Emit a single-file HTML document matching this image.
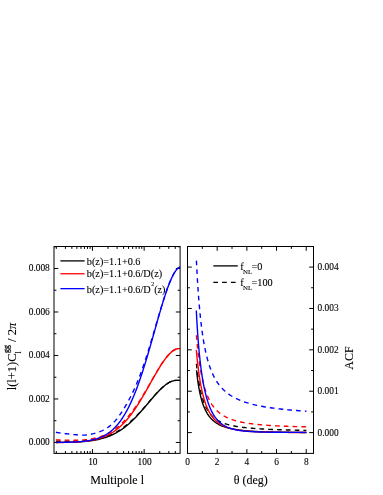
<!DOCTYPE html>
<html><head><meta charset="utf-8"><title>plot</title>
<style>html,body{margin:0;padding:0;background:#fff;}body{width:383px;height:495px;overflow:hidden;font-family:"Liberation Serif",serif;}</style>
</head><body>
<svg width="383" height="495" viewBox="0 0 383 495" style="display:block;will-change:transform">
<rect width="383" height="495" fill="#fff"/>
<clipPath id="cl"><rect x="54.00" y="246.50" width="126.10" height="206.90"/></clipPath>
<clipPath id="cr"><rect x="187.50" y="246.50" width="126.00" height="206.90"/></clipPath>
<path d="M56.31 453.40 v-2.40 M56.31 246.50 v2.40 M65.42 453.40 v-2.40 M65.42 246.50 v2.40 M71.88 453.40 v-2.40 M71.88 246.50 v2.40 M76.89 453.40 v-2.40 M76.89 246.50 v2.40 M80.98 453.40 v-2.40 M80.98 246.50 v2.40 M84.44 453.40 v-2.40 M84.44 246.50 v2.40 M87.44 453.40 v-2.40 M87.44 246.50 v2.40 M90.08 453.40 v-2.40 M90.08 246.50 v2.40 M92.45 453.40 v-4.30 M92.45 246.50 v4.30 M108.01 453.40 v-2.40 M108.01 246.50 v2.40 M117.12 453.40 v-2.40 M117.12 246.50 v2.40 M123.58 453.40 v-2.40 M123.58 246.50 v2.40 M128.59 453.40 v-2.40 M128.59 246.50 v2.40 M132.68 453.40 v-2.40 M132.68 246.50 v2.40 M136.14 453.40 v-2.40 M136.14 246.50 v2.40 M139.14 453.40 v-2.40 M139.14 246.50 v2.40 M141.78 453.40 v-2.40 M141.78 246.50 v2.40 M144.15 453.40 v-4.30 M144.15 246.50 v4.30 M159.71 453.40 v-2.40 M159.71 246.50 v2.40 M168.82 453.40 v-2.40 M168.82 246.50 v2.40 M175.28 453.40 v-2.40 M175.28 246.50 v2.40 M54.00 442.45 h4.30 M180.10 442.45 h-4.30 M54.00 420.71 h2.40 M180.10 420.71 h-2.40 M54.00 398.96 h4.30 M180.10 398.96 h-4.30 M54.00 377.22 h2.40 M180.10 377.22 h-2.40 M54.00 355.47 h4.30 M180.10 355.47 h-4.30 M54.00 333.73 h2.40 M180.10 333.73 h-2.40 M54.00 311.99 h4.30 M180.10 311.99 h-4.30 M54.00 290.24 h2.40 M180.10 290.24 h-2.40 M54.00 268.50 h4.30 M180.10 268.50 h-4.30 M54.00 246.75 h2.40 M180.10 246.75 h-2.40 M202.34 453.40 v-2.40 M202.34 246.50 v2.40 M217.18 453.40 v-4.30 M217.18 246.50 v4.30 M232.02 453.40 v-2.40 M232.02 246.50 v2.40 M246.86 453.40 v-4.30 M246.86 246.50 v4.30 M261.70 453.40 v-2.40 M261.70 246.50 v2.40 M276.54 453.40 v-4.30 M276.54 246.50 v4.30 M291.38 453.40 v-2.40 M291.38 246.50 v2.40 M306.22 453.40 v-4.30 M306.22 246.50 v4.30 M187.50 432.60 h4.30 M313.50 432.60 h-4.30 M187.50 411.91 h2.40 M313.50 411.91 h-2.40 M187.50 391.22 h4.30 M313.50 391.22 h-4.30 M187.50 370.53 h2.40 M313.50 370.53 h-2.40 M187.50 349.84 h4.30 M313.50 349.84 h-4.30 M187.50 329.15 h2.40 M313.50 329.15 h-2.40 M187.50 308.46 h4.30 M313.50 308.46 h-4.30 M187.50 287.77 h2.40 M313.50 287.77 h-2.40 M187.50 267.08 h4.30 M313.50 267.08 h-4.30" fill="none" stroke="#000" stroke-width="1.00"/>
<path d="M55.90 442.45 L56.79 442.44 L57.69 442.43 L58.58 442.42 L59.48 442.41 L60.37 442.40 L61.27 442.39 L62.16 442.38 L63.06 442.36 L63.95 442.35 L64.85 442.33 L65.74 442.32 L66.64 442.30 L67.53 442.28 L68.43 442.26 L69.32 442.23 L70.22 442.21 L71.11 442.18 L72.01 442.15 L72.90 442.12 L73.80 442.09 L74.69 442.05 L75.59 442.01 L76.48 441.97 L77.38 441.93 L78.27 441.88 L79.17 441.83 L80.06 441.78 L80.96 441.72 L81.85 441.65 L82.75 441.59 L83.64 441.52 L84.54 441.44 L85.43 441.36 L86.33 441.27 L87.22 441.18 L88.12 441.08 L89.01 440.98 L89.91 440.86 L90.80 440.75 L91.70 440.62 L92.59 440.49 L93.49 440.35 L94.38 440.20 L95.28 440.04 L96.17 439.87 L97.07 439.70 L97.96 439.51 L98.86 439.31 L99.75 439.10 L100.65 438.89 L101.54 438.65 L102.44 438.41 L103.33 438.16 L104.23 437.89 L105.12 437.61 L106.02 437.31 L106.91 437.00 L107.81 436.67 L108.70 436.33 L109.60 435.98 L110.49 435.61 L111.39 435.22 L112.28 434.81 L113.18 434.39 L114.07 433.95 L114.97 433.49 L115.86 433.01 L116.76 432.51 L117.65 431.99 L118.55 431.46 L119.44 430.90 L120.34 430.33 L121.23 429.73 L122.13 429.11 L123.02 428.48 L123.92 427.82 L124.81 427.14 L125.71 426.44 L126.60 425.72 L127.50 424.98 L128.39 424.22 L129.29 423.44 L130.18 422.63 L131.08 421.81 L131.97 420.97 L132.87 420.11 L133.76 419.23 L134.66 418.33 L135.55 417.41 L136.45 416.48 L137.34 415.53 L138.24 414.57 L139.13 413.59 L140.03 412.59 L140.92 411.59 L141.82 410.57 L142.71 409.54 L143.61 408.51 L144.50 407.46 L145.40 406.41 L146.29 405.35 L147.19 404.29 L148.08 403.23 L148.98 402.17 L149.87 401.11 L150.77 400.05 L151.66 399.00 L152.56 397.95 L153.45 396.92 L154.35 395.89 L155.24 394.88 L156.14 393.88 L157.03 392.90 L157.93 391.94 L158.82 391.00 L159.72 390.09 L160.61 389.20 L161.51 388.34 L162.40 387.51 L163.30 386.71 L164.19 385.95 L165.09 385.22 L165.98 384.54 L166.88 383.90 L167.77 383.30 L168.67 382.75 L169.56 382.25 L170.46 381.81 L171.35 381.42 L172.25 381.08 L173.14 380.81 L174.04 380.61 L174.93 380.47 L175.83 380.42 L176.72 380.42 L177.62 380.42 L178.51 380.42 L179.41 380.42 L180.30 380.42" fill="none" stroke="#000" stroke-width="1.40" stroke-linejoin="round" clip-path="url(#cl)"/>
<path d="M55.90 441.20 L56.79 441.21 L57.69 441.22 L58.58 441.23 L59.48 441.24 L60.37 441.25 L61.27 441.26 L62.16 441.27 L63.06 441.28 L63.95 441.28 L64.85 441.28 L65.74 441.29 L66.64 441.29 L67.53 441.29 L68.43 441.29 L69.32 441.28 L70.22 441.28 L71.11 441.27 L72.01 441.26 L72.90 441.24 L73.80 441.23 L74.69 441.21 L75.59 441.19 L76.48 441.17 L77.38 441.14 L78.27 441.11 L79.17 441.07 L80.06 441.03 L80.96 440.99 L81.85 440.94 L82.75 440.89 L83.64 440.84 L84.54 440.77 L85.43 440.70 L86.33 440.62 L87.22 440.53 L88.12 440.43 L89.01 440.33 L89.91 440.22 L90.80 440.10 L91.70 439.97 L92.59 439.84 L93.49 439.70 L94.38 439.55 L95.28 439.39 L96.17 439.22 L97.07 439.05 L97.96 438.86 L98.86 438.66 L99.75 438.46 L100.65 438.24 L101.54 438.01 L102.44 437.76 L103.33 437.51 L104.23 437.24 L105.12 436.96 L106.02 436.66 L106.91 436.35 L107.81 436.02 L108.70 435.68 L109.60 435.32 L110.49 434.95 L111.39 434.55 L112.28 434.14 L113.18 433.71 L114.07 433.27 L114.97 432.80 L115.86 432.31 L116.76 431.81 L117.65 431.28 L118.55 430.73 L119.44 430.17 L120.34 429.58 L121.23 428.98 L122.13 428.35 L123.02 427.71 L123.92 427.05 L124.81 426.37 L125.71 425.67 L126.60 424.96 L127.50 424.23 L128.39 423.48 L129.29 422.71 L130.18 421.93 L131.08 421.12 L131.97 420.30 L132.87 419.47 L133.76 418.61 L134.66 417.74 L135.55 416.85 L136.45 415.94 L137.34 415.02 L138.24 414.08 L139.13 413.12 L140.03 412.16 L140.92 411.18 L141.82 410.18 L142.71 409.18 L143.61 408.16 L144.50 407.14 L145.40 406.11 L146.29 405.08 L147.19 404.04 L148.08 403.00 L148.98 401.96 L149.87 400.91 L150.77 399.87 L151.66 398.84 L152.56 397.81 L153.45 396.78 L154.35 395.77 L155.24 394.77 L156.14 393.79 L157.03 392.82 L157.93 391.86 L158.82 390.93 L159.72 390.03 L160.61 389.14 L161.51 388.29 L162.40 387.46 L163.30 386.67 L164.19 385.91 L165.09 385.19 L165.98 384.51 L166.88 383.87 L167.77 383.28 L168.67 382.73 L169.56 382.24 L170.46 381.79 L171.35 381.40 L172.25 381.07 L173.14 380.80 L174.04 380.60 L174.93 380.46 L175.83 380.41 L176.72 380.41 L177.62 380.41 L178.51 380.42 L179.41 380.42 L180.30 380.42" fill="none" stroke="#000" stroke-width="1.40" stroke-linejoin="round" stroke-dasharray="4.7 4.1" clip-path="url(#cl)"/>
<path d="M55.90 442.54 L56.79 442.53 L57.69 442.52 L58.58 442.51 L59.48 442.50 L60.37 442.49 L61.27 442.48 L62.16 442.46 L63.06 442.45 L63.95 442.43 L64.85 442.41 L65.74 442.39 L66.64 442.37 L67.53 442.35 L68.43 442.32 L69.32 442.30 L70.22 442.27 L71.11 442.23 L72.01 442.20 L72.90 442.16 L73.80 442.12 L74.69 442.08 L75.59 442.03 L76.48 441.98 L77.38 441.93 L78.27 441.87 L79.17 441.81 L80.06 441.74 L80.96 441.67 L81.85 441.59 L82.75 441.51 L83.64 441.42 L84.54 441.32 L85.43 441.22 L86.33 441.11 L87.22 441.00 L88.12 440.87 L89.01 440.74 L89.91 440.60 L90.80 440.45 L91.70 440.29 L92.59 440.12 L93.49 439.94 L94.38 439.74 L95.28 439.54 L96.17 439.32 L97.07 439.09 L97.96 438.85 L98.86 438.59 L99.75 438.32 L100.65 438.03 L101.54 437.73 L102.44 437.41 L103.33 437.07 L104.23 436.72 L105.12 436.34 L106.02 435.95 L106.91 435.53 L107.81 435.10 L108.70 434.64 L109.60 434.16 L110.49 433.66 L111.39 433.13 L112.28 432.58 L113.18 432.01 L114.07 431.41 L114.97 430.78 L115.86 430.13 L116.76 429.45 L117.65 428.74 L118.55 428.00 L119.44 427.23 L120.34 426.43 L121.23 425.61 L122.13 424.75 L123.02 423.86 L123.92 422.94 L124.81 421.99 L125.71 421.01 L126.60 420.00 L127.50 418.95 L128.39 417.88 L129.29 416.77 L130.18 415.63 L131.08 414.46 L131.97 413.26 L132.87 412.03 L133.76 410.77 L134.66 409.48 L135.55 408.16 L136.45 406.81 L137.34 405.44 L138.24 404.04 L139.13 402.61 L140.03 401.17 L140.92 399.70 L141.82 398.20 L142.71 396.69 L143.61 395.17 L144.50 393.62 L145.40 392.06 L146.29 390.49 L147.19 388.91 L148.08 387.32 L148.98 385.72 L149.87 384.13 L150.77 382.53 L151.66 380.93 L152.56 379.33 L153.45 377.74 L154.35 376.17 L155.24 374.60 L156.14 373.05 L157.03 371.52 L157.93 370.01 L158.82 368.52 L159.72 367.06 L160.61 365.63 L161.51 364.24 L162.40 362.88 L163.30 361.57 L164.19 360.30 L165.09 359.07 L165.98 357.90 L166.88 356.78 L167.77 355.71 L168.67 354.71 L169.56 353.77 L170.46 352.90 L171.35 352.09 L172.25 351.36 L173.14 350.71 L174.04 350.14 L174.93 349.65 L175.83 349.25 L176.72 348.94 L177.62 348.73 L178.51 348.63 L179.41 348.62 L180.30 348.62" fill="none" stroke="#ff0000" stroke-width="1.40" stroke-linejoin="round" clip-path="url(#cl)"/>
<path d="M55.90 439.79 L56.79 439.83 L57.69 439.86 L58.58 439.90 L59.48 439.93 L60.37 439.96 L61.27 439.99 L62.16 440.02 L63.06 440.05 L63.95 440.07 L64.85 440.10 L65.74 440.12 L66.64 440.14 L67.53 440.16 L68.43 440.17 L69.32 440.19 L70.22 440.20 L71.11 440.21 L72.01 440.21 L72.90 440.22 L73.80 440.21 L74.69 440.21 L75.59 440.20 L76.48 440.19 L77.38 440.17 L78.27 440.15 L79.17 440.12 L80.06 440.09 L80.96 440.05 L81.85 440.01 L82.75 439.96 L83.64 439.90 L84.54 439.84 L85.43 439.76 L86.33 439.66 L87.22 439.55 L88.12 439.42 L89.01 439.29 L89.91 439.15 L90.80 439.00 L91.70 438.84 L92.59 438.67 L93.49 438.49 L94.38 438.30 L95.28 438.09 L96.17 437.88 L97.07 437.65 L97.96 437.40 L98.86 437.15 L99.75 436.87 L100.65 436.59 L101.54 436.28 L102.44 435.96 L103.33 435.63 L104.23 435.27 L105.12 434.89 L106.02 434.50 L106.91 434.08 L107.81 433.64 L108.70 433.18 L109.60 432.70 L110.49 432.19 L111.39 431.66 L112.28 431.10 L113.18 430.51 L114.07 429.89 L114.97 429.25 L115.86 428.58 L116.76 427.87 L117.65 427.14 L118.55 426.38 L119.44 425.59 L120.34 424.77 L121.23 423.92 L122.13 423.05 L123.02 422.15 L123.92 421.22 L124.81 420.27 L125.71 419.30 L126.60 418.30 L127.50 417.27 L128.39 416.23 L129.29 415.15 L130.18 414.05 L131.08 412.93 L131.97 411.78 L132.87 410.60 L133.76 409.39 L134.66 408.16 L135.55 406.90 L136.45 405.61 L137.34 404.29 L138.24 402.95 L139.13 401.58 L140.03 400.19 L140.92 398.78 L141.82 397.34 L142.71 395.88 L143.61 394.40 L144.50 392.91 L145.40 391.40 L146.29 389.88 L147.19 388.34 L148.08 386.80 L148.98 385.24 L149.87 383.69 L150.77 382.12 L151.66 380.56 L152.56 379.00 L153.45 377.45 L154.35 375.90 L155.24 374.36 L156.14 372.83 L157.03 371.32 L157.93 369.83 L158.82 368.36 L159.72 366.92 L160.61 365.51 L161.51 364.13 L162.40 362.79 L163.30 361.48 L164.19 360.22 L165.09 359.00 L165.98 357.84 L166.88 356.72 L167.77 355.67 L168.67 354.67 L169.56 353.73 L170.46 352.86 L171.35 352.06 L172.25 351.34 L173.14 350.69 L174.04 350.12 L174.93 349.63 L175.83 349.23 L176.72 348.93 L177.62 348.72 L178.51 348.62 L179.41 348.62 L180.30 348.62" fill="none" stroke="#ff0000" stroke-width="1.40" stroke-linejoin="round" stroke-dasharray="4.7 4.1" clip-path="url(#cl)"/>
<path d="M55.90 442.41 L56.79 442.40 L57.69 442.40 L58.58 442.39 L59.48 442.38 L60.37 442.37 L61.27 442.36 L62.16 442.35 L63.06 442.33 L63.95 442.32 L64.85 442.30 L65.74 442.29 L66.64 442.27 L67.53 442.25 L68.43 442.22 L69.32 442.20 L70.22 442.17 L71.11 442.14 L72.01 442.11 L72.90 442.07 L73.80 442.03 L74.69 441.99 L75.59 441.95 L76.48 441.90 L77.38 441.84 L78.27 441.78 L79.17 441.72 L80.06 441.65 L80.96 441.58 L81.85 441.50 L82.75 441.41 L83.64 441.31 L84.54 441.21 L85.43 441.10 L86.33 440.98 L87.22 440.86 L88.12 440.72 L89.01 440.57 L89.91 440.41 L90.80 440.24 L91.70 440.05 L92.59 439.86 L93.49 439.64 L94.38 439.42 L95.28 439.17 L96.17 438.91 L97.07 438.64 L97.96 438.34 L98.86 438.02 L99.75 437.68 L100.65 437.32 L101.54 436.94 L102.44 436.53 L103.33 436.10 L104.23 435.64 L105.12 435.15 L106.02 434.63 L106.91 434.08 L107.81 433.49 L108.70 432.87 L109.60 432.22 L110.49 431.53 L111.39 430.80 L112.28 430.04 L113.18 429.23 L114.07 428.37 L114.97 427.48 L115.86 426.53 L116.76 425.54 L117.65 424.50 L118.55 423.41 L119.44 422.27 L120.34 421.08 L121.23 419.83 L122.13 418.52 L123.02 417.16 L123.92 415.73 L124.81 414.25 L125.71 412.71 L126.60 411.10 L127.50 409.43 L128.39 407.70 L129.29 405.90 L130.18 404.04 L131.08 402.11 L131.97 400.12 L132.87 398.06 L133.76 395.94 L134.66 393.75 L135.55 391.49 L136.45 389.17 L137.34 386.78 L138.24 384.33 L139.13 381.82 L140.03 379.25 L140.92 376.62 L141.82 373.93 L142.71 371.18 L143.61 368.38 L144.50 365.53 L145.40 362.63 L146.29 359.69 L147.19 356.70 L148.08 353.68 L148.98 350.62 L149.87 347.53 L150.77 344.41 L151.66 341.27 L152.56 338.12 L153.45 334.95 L154.35 331.78 L155.24 328.60 L156.14 325.43 L157.03 322.27 L157.93 319.12 L158.82 316.00 L159.72 312.91 L160.61 309.85 L161.51 306.84 L162.40 303.87 L163.30 300.97 L164.19 298.13 L165.09 295.36 L165.98 292.67 L166.88 290.07 L167.77 287.57 L168.67 285.16 L169.56 282.87 L170.46 280.70 L171.35 278.66 L172.25 276.75 L173.14 274.98 L174.04 273.36 L174.93 271.91 L175.83 270.62 L176.72 269.51 L177.62 268.59 L178.51 267.87 L179.41 267.37 L180.30 267.11" fill="none" stroke="#0000ff" stroke-width="1.40" stroke-linejoin="round" clip-path="url(#cl)"/>
<path d="M55.90 432.31 L56.79 432.44 L57.69 432.58 L58.58 432.71 L59.48 432.84 L60.37 432.96 L61.27 433.09 L62.16 433.21 L63.06 433.34 L63.95 433.46 L64.85 433.57 L65.74 433.69 L66.64 433.80 L67.53 433.91 L68.43 434.02 L69.32 434.13 L70.22 434.23 L71.11 434.32 L72.01 434.42 L72.90 434.51 L73.80 434.59 L74.69 434.67 L75.59 434.75 L76.48 434.82 L77.38 434.88 L78.27 434.94 L79.17 434.99 L80.06 435.03 L80.96 435.06 L81.85 435.09 L82.75 435.10 L83.64 435.11 L84.54 435.10 L85.43 435.07 L86.33 434.99 L87.22 434.86 L88.12 434.72 L89.01 434.57 L89.91 434.41 L90.80 434.24 L91.70 434.06 L92.59 433.86 L93.49 433.65 L94.38 433.42 L95.28 433.18 L96.17 432.92 L97.07 432.64 L97.96 432.35 L98.86 432.03 L99.75 431.69 L100.65 431.33 L101.54 430.95 L102.44 430.54 L103.33 430.11 L104.23 429.64 L105.12 429.15 L106.02 428.63 L106.91 428.07 L107.81 427.48 L108.70 426.84 L109.60 426.17 L110.49 425.45 L111.39 424.69 L112.28 423.88 L113.18 423.02 L114.07 422.10 L114.97 421.14 L115.86 420.11 L116.76 419.04 L117.65 417.90 L118.55 416.72 L119.44 415.48 L120.34 414.19 L121.23 412.86 L122.13 411.48 L123.02 410.07 L123.92 408.62 L124.81 407.13 L125.71 405.62 L126.60 404.07 L127.50 402.48 L128.39 400.87 L129.29 399.21 L130.18 397.52 L131.08 395.78 L131.97 393.99 L132.87 392.15 L133.76 390.26 L134.66 388.30 L135.55 386.28 L136.45 384.20 L137.34 382.05 L138.24 379.84 L139.13 377.56 L140.03 375.22 L140.92 372.81 L141.82 370.35 L142.71 367.82 L143.61 365.24 L144.50 362.59 L145.40 359.90 L146.29 357.15 L147.19 354.36 L148.08 351.52 L148.98 348.64 L149.87 345.71 L150.77 342.76 L151.66 339.77 L152.56 336.75 L153.45 333.71 L154.35 330.66 L155.24 327.60 L156.14 324.53 L157.03 321.46 L157.93 318.40 L158.82 315.35 L159.72 312.33 L160.61 309.34 L161.51 306.38 L162.40 303.47 L163.30 300.61 L164.19 297.81 L165.09 295.08 L165.98 292.42 L166.88 289.85 L167.77 287.37 L168.67 284.99 L169.56 282.72 L170.46 280.57 L171.35 278.54 L172.25 276.64 L173.14 274.89 L174.04 273.28 L174.93 271.83 L175.83 270.56 L176.72 269.45 L177.62 268.54 L178.51 267.83 L179.41 267.33 L180.30 267.07" fill="none" stroke="#0000ff" stroke-width="1.40" stroke-linejoin="round" stroke-dasharray="4.7 4.1" clip-path="url(#cl)"/>
<path d="M196.51 370.20 L196.66 371.60 L196.81 372.98 L196.96 374.32 L197.12 375.64 L197.27 376.93 L197.43 378.19 L197.59 379.42 L197.76 380.63 L197.93 381.81 L198.10 382.97 L198.27 384.11 L198.45 385.22 L198.63 386.30 L198.81 387.37 L198.99 388.41 L199.18 389.44 L199.37 390.44 L199.57 391.42 L199.76 392.38 L199.97 393.32 L200.17 394.25 L200.38 395.15 L200.59 396.04 L200.80 396.90 L201.02 397.76 L201.24 398.59 L201.46 399.41 L201.69 400.21 L201.93 400.99 L202.16 401.76 L202.40 402.52 L202.64 403.26 L202.89 403.98 L203.14 404.69 L203.40 405.39 L203.66 406.07 L203.92 406.73 L204.19 407.39 L204.47 408.03 L204.74 408.66 L205.03 409.27 L205.31 409.88 L205.60 410.47 L205.90 411.05 L206.20 411.61 L206.51 412.17 L206.82 412.71 L207.13 413.24 L207.45 413.76 L207.78 414.27 L208.11 414.77 L208.45 415.26 L208.79 415.74 L209.14 416.21 L209.50 416.67 L209.86 417.12 L210.22 417.56 L210.59 417.99 L210.97 418.41 L211.35 418.82 L211.74 419.22 L212.14 419.61 L212.54 419.99 L212.95 420.37 L213.37 420.73 L213.79 421.09 L214.22 421.44 L214.66 421.78 L215.10 422.12 L215.56 422.44 L216.02 422.76 L216.48 423.07 L216.96 423.37 L217.44 423.67 L217.93 423.96 L218.42 424.24 L218.93 424.51 L219.44 424.78 L219.97 425.04 L220.50 425.29 L221.04 425.54 L221.59 425.78 L222.14 426.01 L222.71 426.24 L223.29 426.46 L223.87 426.68 L224.47 426.89 L225.07 427.09 L225.69 427.29 L226.31 427.48 L226.95 427.67 L227.59 427.85 L228.25 428.03 L228.91 428.20 L229.59 428.37 L230.28 428.53 L230.98 428.68 L231.69 428.84 L232.41 428.98 L233.15 429.13 L233.90 429.26 L234.65 429.40 L235.43 429.53 L236.21 429.65 L237.01 429.77 L237.82 429.89 L238.64 430.00 L239.48 430.11 L240.33 430.22 L241.19 430.32 L242.07 430.42 L242.96 430.51 L243.87 430.61 L244.79 430.69 L245.73 430.78 L246.68 430.86 L247.65 430.94 L248.63 431.02 L249.63 431.09 L250.65 431.16 L251.68 431.23 L252.73 431.30 L253.80 431.36 L254.88 431.42 L255.99 431.48 L257.11 431.53 L258.24 431.59 L259.40 431.64 L260.58 431.69 L261.77 431.73 L262.99 431.78 L264.22 431.82 L265.48 431.86 L266.75 431.90 L268.05 431.94 L269.37 431.98 L270.71 432.01 L272.07 432.04 L273.45 432.08 L274.86 432.11 L276.29 432.13 L277.74 432.16 L279.21 432.19 L280.71 432.21 L282.24 432.24 L283.79 432.26 L285.36 432.28 L286.96 432.30 L288.59 432.32 L290.25 432.34 L291.93 432.35 L293.63 432.37 L295.37 432.39 L297.13 432.40 L298.93 432.42 L300.75 432.43 L302.60 432.44 L304.49 432.45 L306.40 432.46" fill="none" stroke="#000" stroke-width="1.40" stroke-linejoin="round" clip-path="url(#cr)"/>
<path d="M196.43 363.70 L196.57 365.09 L196.72 366.47 L196.87 367.82 L197.03 369.16 L197.18 370.47 L197.34 371.76 L197.50 373.03 L197.67 374.28 L197.84 375.51 L198.01 376.72 L198.18 377.91 L198.35 379.09 L198.53 380.24 L198.71 381.37 L198.90 382.48 L199.08 383.57 L199.27 384.64 L199.47 385.69 L199.66 386.72 L199.86 387.74 L200.07 388.73 L200.27 389.71 L200.48 390.67 L200.70 391.61 L200.91 392.53 L201.13 393.43 L201.36 394.32 L201.58 395.18 L201.81 396.03 L202.05 396.87 L202.29 397.68 L202.53 398.48 L202.78 399.27 L203.03 400.04 L203.28 400.79 L203.54 401.52 L203.81 402.24 L204.07 402.95 L204.35 403.64 L204.62 404.31 L204.90 404.97 L205.19 405.62 L205.48 406.25 L205.78 406.87 L206.08 407.47 L206.38 408.06 L206.69 408.64 L207.01 409.20 L207.33 409.76 L207.65 410.30 L207.98 410.82 L208.32 411.34 L208.66 411.84 L209.01 412.33 L209.36 412.81 L209.72 413.28 L210.08 413.74 L210.45 414.19 L210.83 414.62 L211.21 415.05 L211.60 415.47 L212.00 415.87 L212.40 416.27 L212.81 416.66 L213.23 417.04 L213.65 417.40 L214.08 417.76 L214.51 418.12 L214.96 418.46 L215.41 418.79 L215.87 419.12 L216.33 419.44 L216.81 419.75 L217.29 420.05 L217.78 420.35 L218.27 420.63 L218.78 420.92 L219.29 421.19 L219.81 421.46 L220.34 421.72 L220.88 421.97 L221.43 422.22 L221.99 422.46 L222.56 422.69 L223.13 422.92 L223.72 423.15 L224.31 423.37 L224.92 423.58 L225.53 423.79 L226.15 423.99 L226.79 424.18 L227.43 424.38 L228.09 424.56 L228.76 424.74 L229.43 424.92 L230.12 425.09 L230.82 425.26 L231.53 425.43 L232.26 425.59 L232.99 425.74 L233.74 425.89 L234.50 426.04 L235.27 426.19 L236.05 426.33 L236.85 426.46 L237.66 426.60 L238.48 426.73 L239.32 426.85 L240.17 426.98 L241.04 427.10 L241.91 427.21 L242.81 427.33 L243.72 427.44 L244.64 427.55 L245.58 427.65 L246.53 427.76 L247.50 427.86 L248.48 427.95 L249.49 428.05 L250.50 428.14 L251.54 428.23 L252.59 428.32 L253.66 428.40 L254.74 428.49 L255.85 428.57 L256.97 428.65 L258.11 428.72 L259.27 428.80 L260.45 428.87 L261.65 428.94 L262.86 429.01 L264.10 429.08 L265.36 429.14 L266.64 429.21 L267.94 429.27 L269.26 429.33 L270.60 429.39 L271.96 429.45 L273.35 429.50 L274.76 429.56 L276.19 429.61 L277.65 429.66 L279.13 429.71 L280.63 429.76 L282.16 429.81 L283.71 429.86 L285.29 429.90 L286.90 429.95 L288.53 429.99 L290.19 430.03 L291.88 430.07 L293.59 430.11 L295.33 430.15 L297.10 430.19 L298.90 430.22 L300.73 430.26 L302.59 430.29 L304.48 430.33 L306.40 430.36" fill="none" stroke="#000" stroke-width="1.40" stroke-linejoin="round" stroke-dasharray="4.7 4.1" clip-path="url(#cr)"/>
<path d="M196.35 350.00 L196.50 351.68 L196.65 353.33 L196.80 354.95 L196.95 356.56 L197.11 358.14 L197.26 359.70 L197.43 361.23 L197.59 362.74 L197.75 364.23 L197.92 365.70 L198.10 367.14 L198.27 368.57 L198.45 369.97 L198.63 371.35 L198.81 372.71 L199.00 374.05 L199.19 375.37 L199.38 376.67 L199.57 377.95 L199.77 379.21 L199.98 380.45 L200.18 381.67 L200.39 382.87 L200.60 384.05 L200.82 385.21 L201.04 386.36 L201.26 387.48 L201.49 388.59 L201.72 389.68 L201.95 390.75 L202.19 391.80 L202.43 392.83 L202.68 393.85 L202.93 394.85 L203.18 395.83 L203.44 396.79 L203.70 397.73 L203.97 398.66 L204.24 399.58 L204.52 400.47 L204.80 401.35 L205.08 402.21 L205.37 403.05 L205.67 403.88 L205.96 404.69 L206.27 405.49 L206.58 406.27 L206.89 407.04 L207.21 407.78 L207.54 408.52 L207.87 409.24 L208.20 409.94 L208.54 410.63 L208.89 411.30 L209.24 411.96 L209.60 412.60 L209.96 413.23 L210.33 413.84 L210.71 414.44 L211.09 415.03 L211.48 415.60 L211.88 416.16 L212.28 416.71 L212.69 417.24 L213.10 417.76 L213.52 418.27 L213.95 418.76 L214.39 419.24 L214.83 419.71 L215.28 420.16 L215.74 420.61 L216.20 421.04 L216.67 421.46 L217.16 421.87 L217.64 422.27 L218.14 422.65 L218.65 423.03 L219.16 423.39 L219.68 423.74 L220.21 424.09 L220.75 424.42 L221.30 424.74 L221.85 425.06 L222.42 425.36 L222.99 425.65 L223.58 425.94 L224.17 426.21 L224.78 426.48 L225.39 426.73 L226.01 426.98 L226.65 427.22 L227.29 427.46 L227.95 427.68 L228.62 427.90 L229.29 428.11 L229.98 428.31 L230.68 428.50 L231.39 428.69 L232.11 428.87 L232.85 429.04 L233.60 429.21 L234.36 429.37 L235.13 429.52 L235.91 429.67 L236.71 429.81 L237.52 429.95 L238.34 430.08 L239.18 430.21 L240.03 430.33 L240.90 430.45 L241.78 430.56 L242.67 430.66 L243.58 430.76 L244.50 430.86 L245.44 430.95 L246.40 431.04 L247.37 431.13 L248.35 431.21 L249.36 431.29 L250.37 431.36 L251.41 431.43 L252.46 431.50 L253.53 431.56 L254.62 431.62 L255.73 431.68 L256.85 431.74 L257.99 431.79 L259.15 431.84 L260.33 431.88 L261.53 431.93 L262.75 431.97 L263.99 432.01 L265.25 432.05 L266.53 432.09 L267.83 432.12 L269.16 432.15 L270.50 432.18 L271.87 432.21 L273.26 432.24 L274.67 432.27 L276.11 432.29 L277.57 432.31 L279.05 432.33 L280.56 432.35 L282.09 432.37 L283.65 432.39 L285.23 432.41 L286.84 432.42 L288.48 432.44 L290.14 432.45 L291.83 432.47 L293.55 432.48 L295.30 432.49 L297.07 432.50 L298.88 432.51 L300.71 432.52 L302.58 432.53 L304.47 432.54 L306.40 432.55" fill="none" stroke="#ff0000" stroke-width="1.40" stroke-linejoin="round" clip-path="url(#cr)"/>
<path d="M196.40 335.20 L196.54 336.90 L196.69 338.57 L196.84 340.23 L197.00 341.87 L197.15 343.48 L197.31 345.08 L197.47 346.66 L197.64 348.22 L197.80 349.75 L197.97 351.27 L198.15 352.76 L198.32 354.24 L198.50 355.70 L198.68 357.13 L198.86 358.55 L199.05 359.95 L199.24 361.32 L199.43 362.68 L199.63 364.02 L199.83 365.33 L200.03 366.63 L200.24 367.91 L200.45 369.17 L200.66 370.41 L200.88 371.62 L201.10 372.83 L201.32 374.01 L201.55 375.17 L201.78 376.31 L202.01 377.44 L202.25 378.55 L202.49 379.63 L202.74 380.70 L202.99 381.75 L203.24 382.79 L203.50 383.80 L203.77 384.80 L204.03 385.78 L204.30 386.75 L204.58 387.69 L204.86 388.62 L205.15 389.53 L205.44 390.43 L205.73 391.31 L206.03 392.17 L206.34 393.02 L206.65 393.85 L206.96 394.66 L207.28 395.46 L207.61 396.25 L207.94 397.01 L208.27 397.77 L208.61 398.51 L208.96 399.23 L209.31 399.94 L209.67 400.63 L210.04 401.32 L210.41 401.98 L210.78 402.64 L211.17 403.28 L211.56 403.90 L211.95 404.52 L212.35 405.12 L212.76 405.70 L213.18 406.28 L213.60 406.84 L214.03 407.39 L214.46 407.93 L214.91 408.45 L215.36 408.97 L215.82 409.47 L216.28 409.97 L216.75 410.45 L217.24 410.92 L217.72 411.38 L218.22 411.82 L218.73 412.26 L219.24 412.69 L219.76 413.11 L220.29 413.52 L220.83 413.92 L221.38 414.31 L221.94 414.69 L222.50 415.06 L223.08 415.42 L223.66 415.77 L224.26 416.12 L224.86 416.45 L225.47 416.78 L226.10 417.10 L226.73 417.41 L227.38 417.72 L228.03 418.02 L228.70 418.30 L229.38 418.59 L230.07 418.86 L230.77 419.13 L231.48 419.39 L232.20 419.64 L232.94 419.89 L233.68 420.13 L234.44 420.37 L235.21 420.59 L236.00 420.82 L236.79 421.03 L237.60 421.24 L238.43 421.45 L239.27 421.65 L240.12 421.84 L240.98 422.03 L241.86 422.21 L242.75 422.39 L243.66 422.57 L244.59 422.73 L245.52 422.90 L246.48 423.06 L247.45 423.21 L248.43 423.36 L249.43 423.51 L250.45 423.65 L251.49 423.79 L252.54 423.93 L253.61 424.06 L254.70 424.18 L255.80 424.31 L256.92 424.42 L258.06 424.54 L259.22 424.65 L260.40 424.76 L261.60 424.87 L262.82 424.97 L264.06 425.07 L265.32 425.17 L266.60 425.26 L267.90 425.35 L269.22 425.44 L270.56 425.53 L271.93 425.61 L273.31 425.69 L274.72 425.77 L276.16 425.84 L277.62 425.92 L279.10 425.99 L280.60 426.06 L282.13 426.12 L283.69 426.19 L285.27 426.25 L286.88 426.31 L288.51 426.37 L290.17 426.43 L291.86 426.48 L293.58 426.53 L295.32 426.59 L297.09 426.63 L298.89 426.68 L300.72 426.73 L302.59 426.77 L304.48 426.82 L306.40 426.86" fill="none" stroke="#ff0000" stroke-width="1.40" stroke-linejoin="round" stroke-dasharray="4.7 4.1" clip-path="url(#cr)"/>
<path d="M196.31 310.50 L196.45 313.35 L196.60 316.13 L196.75 318.85 L196.90 321.51 L197.06 324.11 L197.22 326.66 L197.38 329.15 L197.54 331.60 L197.70 333.99 L197.87 336.33 L198.04 338.63 L198.22 340.87 L198.40 343.08 L198.57 345.24 L198.76 347.35 L198.94 349.43 L199.13 351.46 L199.32 353.46 L199.52 355.42 L199.72 357.34 L199.92 359.22 L200.12 361.07 L200.33 362.88 L200.54 364.66 L200.76 366.40 L200.98 368.11 L201.20 369.79 L201.43 371.44 L201.66 373.06 L201.89 374.64 L202.13 376.20 L202.37 377.73 L202.62 379.22 L202.86 380.69 L203.12 382.13 L203.38 383.55 L203.64 384.93 L203.90 386.29 L204.18 387.62 L204.45 388.93 L204.73 390.21 L205.01 391.47 L205.30 392.70 L205.60 393.90 L205.90 395.08 L206.20 396.23 L206.51 397.36 L206.82 398.47 L207.14 399.56 L207.47 400.61 L207.79 401.65 L208.13 402.66 L208.47 403.66 L208.82 404.62 L209.17 405.57 L209.53 406.49 L209.89 407.40 L210.26 408.28 L210.63 409.13 L211.02 409.97 L211.40 410.79 L211.80 411.58 L212.20 412.36 L212.61 413.12 L213.02 413.85 L213.44 414.57 L213.87 415.26 L214.31 415.94 L214.75 416.60 L215.20 417.23 L215.66 417.85 L216.12 418.45 L216.59 419.04 L217.07 419.60 L217.56 420.15 L218.06 420.68 L218.56 421.20 L219.07 421.69 L219.60 422.17 L220.12 422.64 L220.66 423.09 L221.21 423.52 L221.77 423.94 L222.33 424.34 L222.91 424.73 L223.49 425.10 L224.09 425.46 L224.69 425.81 L225.30 426.14 L225.93 426.46 L226.56 426.77 L227.21 427.07 L227.86 427.35 L228.53 427.62 L229.21 427.88 L229.89 428.13 L230.59 428.36 L231.30 428.59 L232.03 428.81 L232.76 429.02 L233.51 429.21 L234.27 429.40 L235.04 429.58 L235.83 429.75 L236.62 429.91 L237.43 430.07 L238.26 430.21 L239.10 430.35 L239.95 430.48 L240.81 430.61 L241.69 430.73 L242.59 430.84 L243.50 430.94 L244.42 431.04 L245.36 431.14 L246.31 431.22 L247.29 431.31 L248.27 431.39 L249.27 431.46 L250.29 431.53 L251.33 431.59 L252.38 431.66 L253.46 431.71 L254.54 431.77 L255.65 431.82 L256.77 431.86 L257.92 431.91 L259.08 431.95 L260.26 431.99 L261.46 432.02 L262.68 432.05 L263.92 432.09 L265.19 432.11 L266.47 432.14 L267.77 432.16 L269.10 432.19 L270.44 432.21 L271.81 432.23 L273.20 432.25 L274.62 432.26 L276.06 432.28 L277.52 432.29 L279.00 432.30 L280.51 432.32 L282.05 432.33 L283.61 432.34 L285.19 432.35 L286.81 432.35 L288.45 432.36 L290.11 432.37 L291.81 432.38 L293.53 432.38 L295.28 432.39 L297.06 432.39 L298.86 432.40 L300.70 432.40 L302.57 432.40 L304.47 432.41 L306.40 432.41" fill="none" stroke="#0000ff" stroke-width="1.40" stroke-linejoin="round" clip-path="url(#cr)"/>
<path d="M196.42 260.60 L196.56 263.61 L196.71 266.57 L196.86 269.47 L197.02 272.33 L197.17 275.13 L197.33 277.89 L197.49 280.59 L197.66 283.25 L197.83 285.86 L198.00 288.43 L198.17 290.94 L198.34 293.42 L198.52 295.84 L198.70 298.23 L198.89 300.57 L199.07 302.87 L199.26 305.12 L199.46 307.34 L199.65 309.51 L199.85 311.64 L200.05 313.73 L200.26 315.79 L200.47 317.81 L200.68 319.78 L200.90 321.73 L201.12 323.63 L201.34 325.50 L201.57 327.33 L201.80 329.13 L202.04 330.90 L202.28 332.63 L202.52 334.32 L202.77 335.99 L203.02 337.62 L203.27 339.23 L203.53 340.80 L203.79 342.34 L204.06 343.85 L204.33 345.33 L204.61 346.78 L204.89 348.21 L205.18 349.61 L205.47 350.98 L205.76 352.32 L206.06 353.64 L206.37 354.93 L206.68 356.19 L206.99 357.43 L207.31 358.65 L207.64 359.84 L207.97 361.01 L208.30 362.15 L208.65 363.27 L208.99 364.37 L209.35 365.45 L209.70 366.51 L210.07 367.54 L210.44 368.56 L210.82 369.55 L211.20 370.53 L211.59 371.48 L211.98 372.42 L212.39 373.33 L212.80 374.23 L213.21 375.11 L213.63 375.97 L214.06 376.82 L214.50 377.65 L214.94 378.46 L215.39 379.25 L215.85 380.03 L216.32 380.79 L216.79 381.54 L217.27 382.27 L217.76 382.99 L218.26 383.69 L218.76 384.38 L219.28 385.05 L219.80 385.72 L220.33 386.36 L220.87 387.00 L221.42 387.62 L221.97 388.22 L222.54 388.82 L223.11 389.40 L223.70 389.97 L224.29 390.53 L224.90 391.08 L225.51 391.62 L226.14 392.14 L226.77 392.66 L227.42 393.16 L228.07 393.66 L228.74 394.14 L229.42 394.62 L230.10 395.08 L230.80 395.53 L231.51 395.98 L232.24 396.42 L232.97 396.84 L233.72 397.26 L234.48 397.67 L235.25 398.07 L236.03 398.47 L236.83 398.85 L237.64 399.23 L238.47 399.60 L239.30 399.96 L240.15 400.31 L241.02 400.66 L241.90 401.00 L242.79 401.33 L243.70 401.66 L244.62 401.98 L245.56 402.29 L246.51 402.60 L247.48 402.90 L248.47 403.19 L249.47 403.48 L250.49 403.76 L251.52 404.04 L252.57 404.31 L253.64 404.57 L254.73 404.83 L255.83 405.08 L256.95 405.33 L258.10 405.58 L259.25 405.81 L260.43 406.05 L261.63 406.28 L262.85 406.50 L264.09 406.72 L265.34 406.94 L266.62 407.15 L267.92 407.35 L269.24 407.56 L270.59 407.75 L271.95 407.95 L273.34 408.14 L274.75 408.32 L276.18 408.51 L277.64 408.69 L279.12 408.86 L280.62 409.03 L282.15 409.20 L283.71 409.36 L285.29 409.53 L286.89 409.68 L288.53 409.84 L290.18 409.99 L291.87 410.14 L293.59 410.28 L295.33 410.43 L297.10 410.56 L298.90 410.70 L300.73 410.84 L302.59 410.97 L304.48 411.09 L306.40 411.22" fill="none" stroke="#0000ff" stroke-width="1.40" stroke-linejoin="round" stroke-dasharray="4.7 4.1" clip-path="url(#cr)"/>
<rect x="54.00" y="246.50" width="126.10" height="206.90" fill="none" stroke="#000" stroke-width="1.00"/>
<rect x="187.50" y="246.50" width="126.00" height="206.90" fill="none" stroke="#000" stroke-width="1.00"/>
<g font-family="Liberation Serif, serif" fill="#000" stroke="#000" stroke-width="0.1">
<text x="49.8" y="445.25" font-size="9.4" text-anchor="end">0.000</text>
<text x="49.8" y="401.76" font-size="9.4" text-anchor="end">0.002</text>
<text x="49.8" y="358.27" font-size="9.4" text-anchor="end">0.004</text>
<text x="49.8" y="314.79" font-size="9.4" text-anchor="end">0.006</text>
<text x="49.8" y="271.30" font-size="9.4" text-anchor="end">0.008</text>
<text x="92.85" y="464.9" font-size="9.4" text-anchor="middle">10</text>
<text x="144.55" y="464.9" font-size="9.4" text-anchor="middle">100</text>
<text x="187.50" y="464.9" font-size="9.4" text-anchor="middle">0</text>
<text x="217.18" y="464.9" font-size="9.4" text-anchor="middle">2</text>
<text x="246.86" y="464.9" font-size="9.4" text-anchor="middle">4</text>
<text x="276.54" y="464.9" font-size="9.4" text-anchor="middle">6</text>
<text x="306.22" y="464.9" font-size="9.4" text-anchor="middle">8</text>
<text x="317.5" y="435.60" font-size="9.4">0.000</text>
<text x="317.5" y="394.22" font-size="9.4">0.001</text>
<text x="317.5" y="352.84" font-size="9.4">0.002</text>
<text x="317.5" y="311.46" font-size="9.4">0.003</text>
<text x="317.5" y="270.08" font-size="9.4">0.004</text>
<text x="117.2" y="483.8" font-size="12" text-anchor="middle">Multipole l</text>
<text x="250.8" y="483.9" font-size="12" text-anchor="middle">θ (deg)</text>
<text transform="translate(353.2,358) rotate(-90)" font-size="12" text-anchor="middle">ACF</text>
<g transform="translate(16.0,390.3) rotate(-90)"><text x="0" y="0" font-size="12.5">l(l+1)C</text><text x="36.7" y="4.9" font-size="8">l</text><text x="37.3" y="-6.7" font-size="8" stroke-width="0.25">gg</text><text x="48.4" y="0" font-size="12.5">/ 2<tspan font-style="italic">π</tspan></text></g>
<text x="86.8" y="264.8" font-size="10.25">b(z)=1.1+0.6</text>
<text x="86.8" y="277.0" font-size="10.25">b(z)=1.1+0.6/D(z)</text>
<text x="86.8" y="292.6" font-size="10.25">b(z)=1.1+0.6/D<tspan font-size="6" dy="-6.3" dx="0.6">2</tspan><tspan dy="6.3" dx="-0.2">(z)</tspan></text>
<text x="240.2" y="269.8" font-size="10.25">f</text><text x="243.1" y="273.7" font-size="6.8">NL</text><text x="251.5" y="269.8" font-size="10.25">=0</text>
<text x="240.2" y="286.2" font-size="10.25">f</text><text x="243.1" y="290.1" font-size="6.8">NL</text><text x="251.5" y="286.2" font-size="10.25">=100</text>
</g>
<path d="M60.4 260.9 H84.6" stroke="#000" stroke-width="1.30"/>
<path d="M60.4 273.75 H84.6" stroke="#ff0000" stroke-width="1.30"/>
<path d="M60.4 288.65 H84.6" stroke="#0000ff" stroke-width="1.30"/>
<path d="M213.3 265.9 H237.8" stroke="#000" stroke-width="1.30"/>
<path d="M213.3 282.4 H237.8" stroke="#000" stroke-width="1.30" stroke-dasharray="4.7 4.1"/>
</svg>
</body></html>
